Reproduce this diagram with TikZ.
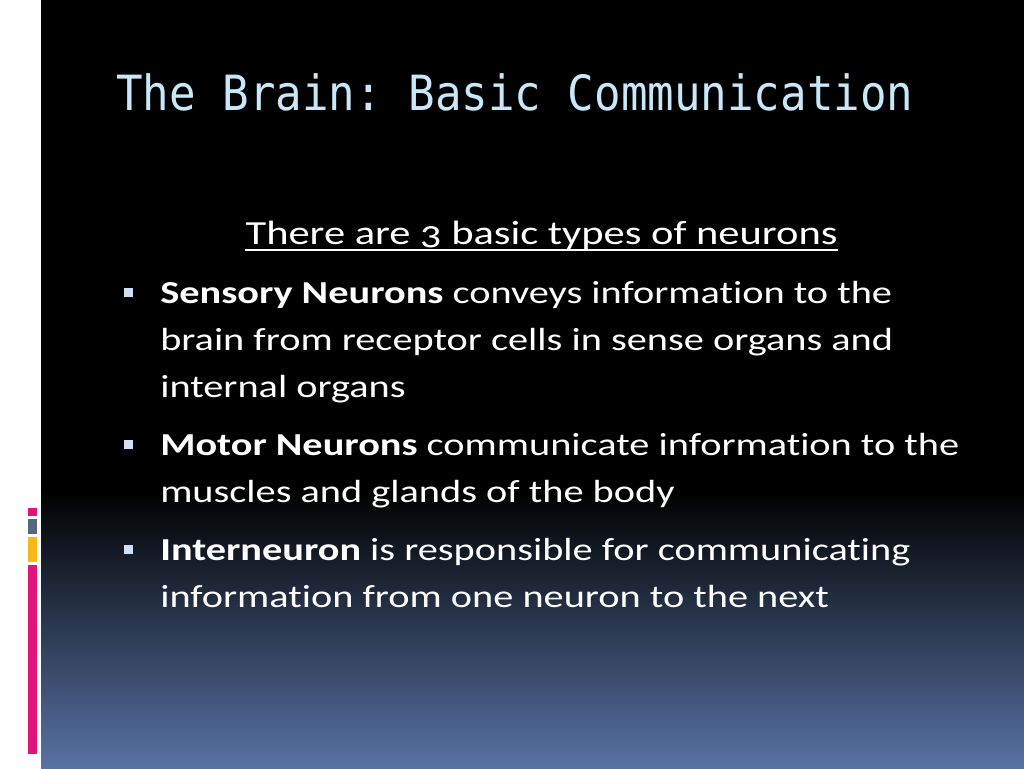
\documentclass[tikz,border=0pt]{standalone}
\usepackage{fontspec}
\setmainfont{Carlito}[FakeStretch=1.26, Ligatures=NoCommon, Numbers=OldStyle]
\newfontfamily\titlefont{DejaVu Sans Mono}
\usetikzlibrary{positioning}
\definecolor{titleblue}{HTML}{C8E8FA}
\definecolor{bulletblue}{HTML}{CFE0F5}
\definecolor{bottomblue}{HTML}{5872A4}
\definecolor{barpink}{HTML}{E0157A}
\definecolor{bargray}{HTML}{56677D}
\definecolor{baryellow}{HTML}{FDB913}
\tikzset{
  body/.style={anchor=base west, inner sep=0pt, text=white, font=\fontsize{24}{28}\selectfont},
  bulletsq/.style={fill=bulletblue, draw=none},
  bar/.style={draw=none}
}
\begin{document}
\frenchspacing
\begin{tikzpicture}[x=0.75pt,y=-0.75pt]
\useasboundingbox (0,0) rectangle (1024,768);
\fill[white] (0,0) rectangle (41,768);
\fill[black] (41,0) rectangle (1024,490);
\shade[top color=black, bottom color=bottomblue] (41,489.5) rectangle (1024,768);
% left bars
\fill[bar, barpink] (28,508) rectangle (37,516);
\fill[bar, bargray] (28,519) rectangle (37,534);
\fill[bar, baryellow] (28,537) rectangle (37,562);
\fill[bar, barpink] (28,565) rectangle (37,754);
% title
\node[anchor=base west, inner sep=0pt, text=titleblue] (title) at (116,110)
  {\scalebox{1}[1.1]{\titlefont\fontsize{33.1}{36}\selectfont The Brain: Basic Communication}};
% subtitle
\node[anchor=base, inner sep=0pt, text=white, font=\fontsize{25.3}{30}\selectfont] (sub) at (541.5,244)
  {There are 3 basic types of neurons};
\draw[white, line width=1.4pt] (sub.base west) ++(0,6) -- ([yshift=-4.5pt]sub.base east);
% bullets
\fill[bulletsq] (124,288) rectangle (133,297);
\fill[bulletsq] (124,440) rectangle (133,449);
\fill[bulletsq] (124,545) rectangle (133,554);
\node[body] (s1) at (160,303) {\textbf{Sensory Neurons} conveys information to the};
\node[body] (s2) at (160,350) {brain from receptor cells in sense organs and};
\node[body] (s3) at (160,397) {internal organs};
\node[body] (m1) at (160,455) {\textbf{Motor Neurons} communicate information to the};
\node[body] (m2) at (160,502) {muscles and glands of the body};
\node[body] (i1) at (160,560) {\textbf{Interneuron} is responsible for communicating};
\node[body] (i2) at (160,607) {information from one neuron to the next};
\end{tikzpicture}
\end{document}
